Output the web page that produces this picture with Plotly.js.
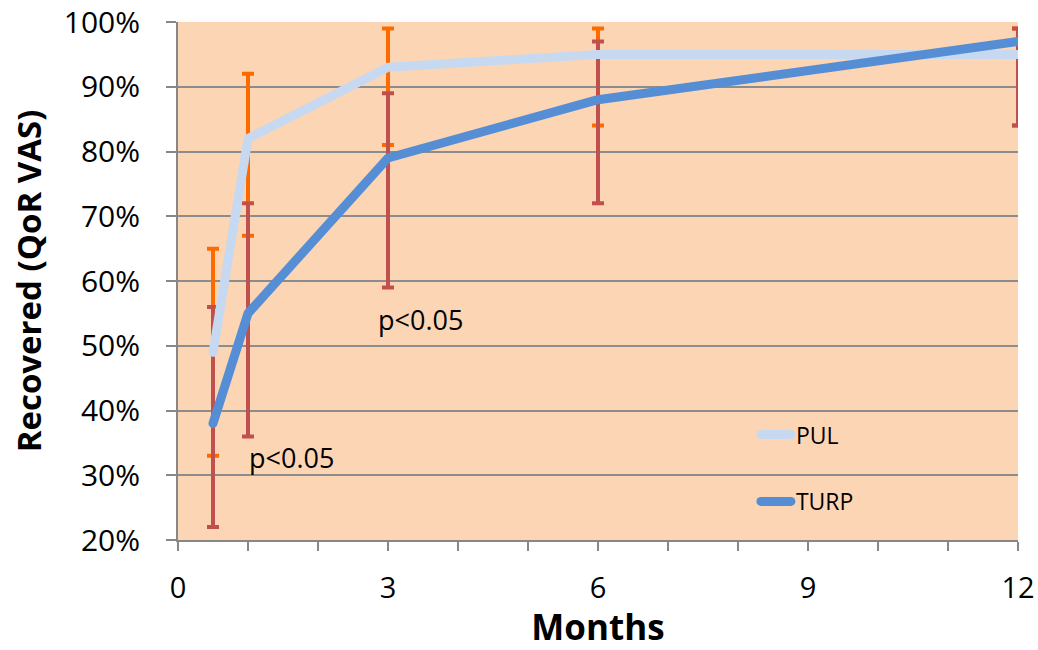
<!DOCTYPE html>
<html>
<head>
<meta charset="utf-8">
<script src="https://cdn.plot.ly/plotly-3.0.1.min.js"></script>
<style>
html,body{margin:0;padding:0;background:#fff;}
#chart{width:1038px;height:650px;}
.scatterlayer path.js-line{stroke-linecap:round;stroke-linejoin:round;}
.legend path.js-line{stroke-linecap:round;}
</style>
</head>
<body>
<div id="chart"></div>
<script>
// Data (months, % recovered)
const months = [0.5, 1, 3, 6, 12];
const pulValues = [49, 82, 93, 95, 95];
const pulErrPlus = [16, 10, 6, 4, 4];
const pulErrMinus = [16, 15, 12, 11, 11];
const turpValues = [38, 55, 79, 88, 97];
const turpErrPlus = [18, 17, 10, 9, 2];
const turpErrMinus = [16, 19, 20, 16, 13];
const xTickVals = [0,1,2,3,4,5,6,7,8,9,10,11,12];
const xTickText = ['0','','','3','','','6','','','9','','','12'];
const annotationTexts = ['p<0.05', 'p<0.05'];
const annotationX = [1.62, 3.46];
const annotationY = [32.7, 54];

const font = '"Open Sans", "Noto Sans", sans-serif';

const traces = [
  {
    x: months, y: pulValues, type: 'scatter', mode: 'markers',
    marker: {opacity: 0, size: 1}, showlegend: false, hoverinfo: 'skip',
    error_y: {type: 'data', symmetric: false, array: pulErrPlus, arrayminus: pulErrMinus,
      color: '#FF6A00', thickness: 4, width: 6}
  },
  {
    x: months, y: turpValues, type: 'scatter', mode: 'markers',
    marker: {opacity: 0, size: 1}, showlegend: false, hoverinfo: 'skip',
    error_y: {type: 'data', symmetric: false, array: turpErrPlus, arrayminus: turpErrMinus,
      color: '#C0504D', thickness: 4, width: 6}
  },
  {
    x: months, y: pulValues, type: 'scatter', mode: 'lines', name: 'PUL',
    legendgroup: 'a',
    line: {color: '#C6D9F1', width: 9}
  },
  {
    x: months, y: turpValues, type: 'scatter', mode: 'lines', name: 'TURP',
    legendgroup: 'b',
    line: {color: '#558ED5', width: 9}
  }
];

const annotations = annotationTexts.map((t, i) => ({
  x: annotationX[i], y: annotationY[i], xref: 'x', yref: 'y', text: t,
  showarrow: false, font: {family: font, size: 27, color: '#000'}
}));

const layout = {
  width: 1038, height: 650,
  margin: {l: 178, r: 20, t: 22, b: 110},
  paper_bgcolor: '#ffffff',
  plot_bgcolor: '#FCD5B5',
  font: {family: font, color: '#000'},
  showlegend: true,
  legend: {
    x: 0.688, y: 0.245, xanchor: 'left', yanchor: 'top',
    bgcolor: 'rgba(0,0,0,0)', font: {family: font, size: 23, color: '#000'},
    traceorder: 'grouped', tracegroupgap: 34
  },
  xaxis: {
    range: [0, 12], tickvals: xTickVals, ticktext: xTickText,
    showgrid: false, zeroline: false, showline: true, linecolor: '#878787', linewidth: 2,
    ticks: 'outside', ticklen: 9, tickwidth: 2, tickcolor: '#878787',
    tickfont: {family: font, size: 29, color: '#000'}, ticklabelstandoff: 12,
    title: {text: '<b>Months</b>', font: {family: font, size: 35, color: '#000'}, standoff: 26},
    automargin: false, fixedrange: true
  },
  yaxis: {
    range: [20, 100], dtick: 10, ticksuffix: '%',
    showgrid: true, gridcolor: '#8C8C8C', gridwidth: 2,
    zeroline: false, showline: true, linecolor: '#878787', linewidth: 2,
    ticks: 'outside', ticklen: 10, tickwidth: 2, tickcolor: '#878787',
    tickfont: {family: font, size: 30, color: '#000'}, ticklabelstandoff: 20,
    title: {text: '<b>Recovered (QoR VAS)</b>', font: {family: font, size: 33, color: '#000'}, standoff: 12},
    automargin: false, fixedrange: true
  },
  annotations: annotations
};

Plotly.newPlot('chart', traces, layout, {displayModeBar: false, staticPlot: true});
</script>
</body>
</html>
